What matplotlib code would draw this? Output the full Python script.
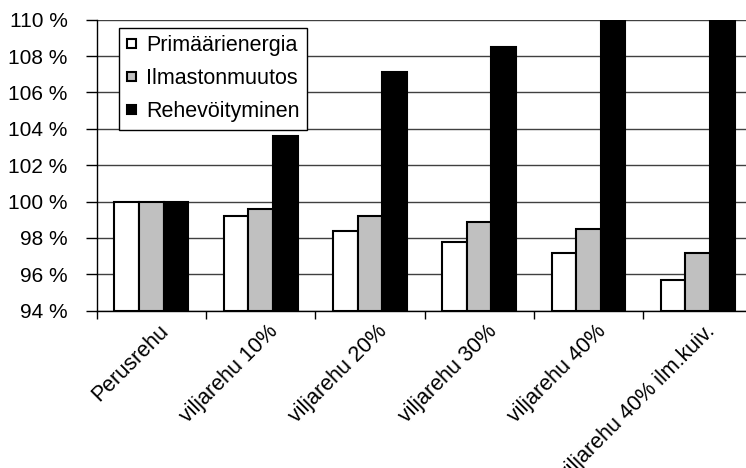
import numpy as np
import matplotlib.pyplot as plt
import matplotlib.transforms as mtransforms
from matplotlib.ticker import FuncFormatter, MultipleLocator, FixedLocator

plt.rcParams['font.family'] = ['Liberation Sans', 'DejaVu Sans']

categories = ['Perusrehu', 'viljarehu 10%', 'viljarehu 20%', 'viljarehu 30%',
              'viljarehu 40%', 'viljarehu 40% ilm.kuiv.']
primaarienergia = [100.0, 99.2, 98.4, 97.8, 97.2, 95.7]
ilmastonmuutos = [100.0, 99.6, 99.2, 98.9, 98.5, 97.2]
rehevoityminen = [100.0, 103.6, 107.1, 108.5, 109.9, 109.9]
series = [('Primäärienergia', primaarienergia, 'white'),
          ('Ilmastonmuutos', ilmastonmuutos, '#c0c0c0'),
          ('Rehevöityminen', rehevoityminen, 'black')]

fig = plt.figure(figsize=(7.46, 4.68), dpi=100)
ax = fig.add_axes([0.1296, 0.336, 0.879, 0.622])

x = np.arange(len(categories))
w = 0.225
for i, (name, vals, col) in enumerate(series):
    ax.bar(x + (i - 1) * w, np.array(vals) - 94, bottom=94, width=w,
           color=col, edgecolor='black', linewidth=1.5, label=name, zorder=3)

ax.set_xlim(-0.5, len(categories) - 0.5)
ax.set_ylim(94, 110)
ax.yaxis.set_major_locator(MultipleLocator(2))
ax.yaxis.set_major_formatter(FuncFormatter(lambda v, p: '%d %%' % v))
ax.grid(axis='y', color='#404040', linewidth=1, zorder=0)

ax.set_xticks(x)
ax.set_xticklabels(categories, rotation=45, ha='right', va='top',
                   rotation_mode='anchor')
ax.xaxis.set_minor_locator(FixedLocator(np.arange(-0.5, len(categories), 1)))
ax.tick_params(axis='x', which='major', length=0, pad=7, labelsize=15.5)
ax.tick_params(axis='x', which='minor', length=6, width=1, direction='out')
ax.tick_params(axis='y', length=8, width=1, direction='out', pad=13,
               labelsize=15)
offset = mtransforms.ScaledTranslation(7 / 100, 0, fig.dpi_scale_trans)
for lab in ax.get_xticklabels():
    lab.set_transform(lab.get_transform() + offset)

for s in ['top', 'right']:
    ax.spines[s].set_visible(False)
ax.spines['left'].set_linewidth(1)
ax.spines['bottom'].set_linewidth(1)

leg = ax.legend(loc='upper left', bbox_to_anchor=(0.034, 0.972),
                fontsize=15.5, frameon=True, fancybox=False, edgecolor='black',
                framealpha=1, handlelength=0.45, handleheight=0.3,
                handletextpad=0.45, labelspacing=0.55, borderpad=0.35,
                borderaxespad=0)
leg.get_frame().set_linewidth(1)
leg.set_zorder(5)

fig.savefig('out.png', dpi=100)
